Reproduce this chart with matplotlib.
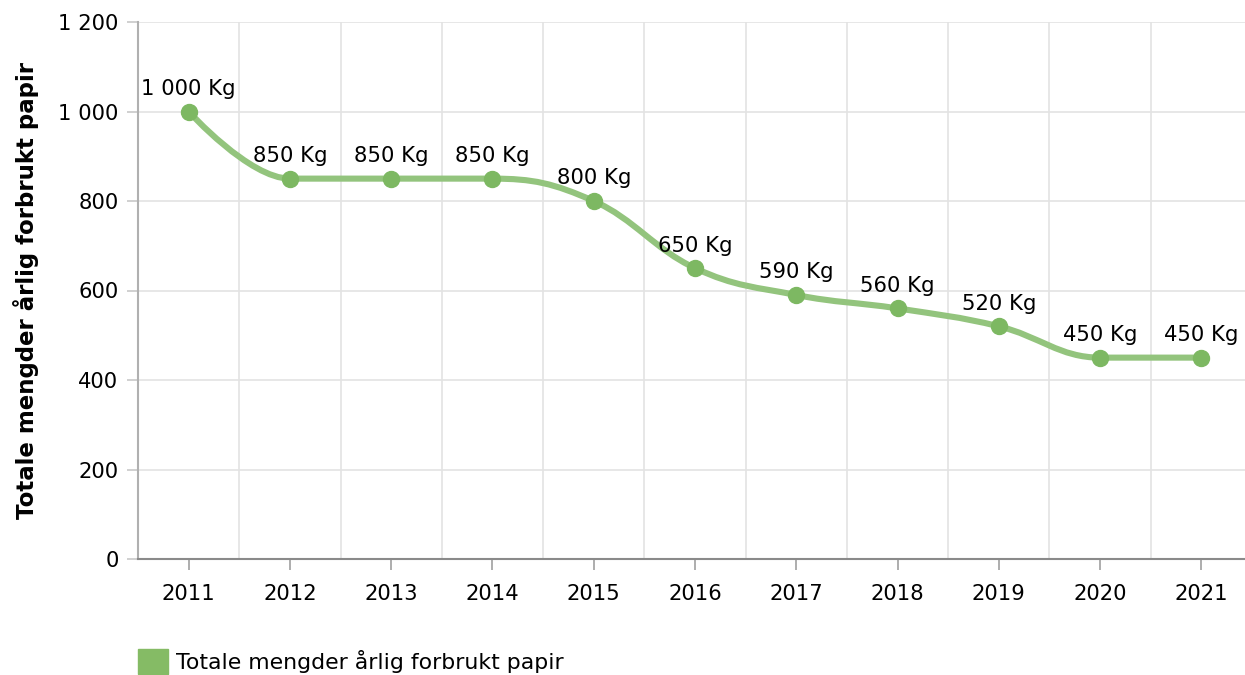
import numpy as np
import matplotlib
matplotlib.use("Agg")
import matplotlib.pyplot as plt
from matplotlib.path import Path
from matplotlib.patches import PathPatch, Patch

years = ["2011", "2012", "2013", "2014", "2015", "2016", "2017", "2018", "2019", "2020", "2021"]
paper_kg = [1000, 850, 850, 850, 800, 650, 590, 560, 520, 450, 450]
series_name = "Totale mengder årlig forbrukt papir"
y_title = "Totale mengder årlig forbrukt papir"

line_col = "#93c47d"
dot_col = "#7db862"

plt.rcParams['font.family'] = ['DejaVu Sans']
FS = 15.2


def fmt(v):
    s = f"{int(v):,}".replace(",", " ")
    return s


def spline_path(xs, ys, smoothing=1.5):
    # highcharts-like spline: bezier control points per point
    n = len(xs)
    lc = [None] * n
    rc = [None] * n
    for i in range(n):
        if i == 0 or i == n - 1:
            lc[i] = (xs[i], ys[i])
            rc[i] = (xs[i], ys[i])
            continue
        px, py = xs[i], ys[i]
        lx, ly = xs[i - 1], ys[i - 1]
        nx, ny = xs[i + 1], ys[i + 1]
        d = smoothing + 1
        lcx = (smoothing * px + lx) / d
        lcy = (smoothing * py + ly) / d
        rcx = (smoothing * px + nx) / d
        rcy = (smoothing * py + ny) / d
        corr = ((rcy - lcy) * (rcx - px)) / (rcx - lcx) + py - rcy
        lcy += corr
        rcy += corr
        if lcy > ly and lcy > py:
            lcy = max(ly, py)
            rcy = 2 * py - lcy
        elif lcy < ly and lcy < py:
            lcy = min(ly, py)
            rcy = 2 * py - lcy
        if rcy > ny and rcy > py:
            rcy = max(ny, py)
            lcy = 2 * py - rcy
        elif rcy < ny and rcy < py:
            rcy = min(ny, py)
            lcy = 2 * py - rcy
        lc[i] = (lcx, lcy)
        rc[i] = (rcx, rcy)
    verts = [(xs[0], ys[0])]
    codes = [Path.MOVETO]
    for i in range(1, n):
        verts += [rc[i - 1], lc[i], (xs[i], ys[i])]
        codes += [Path.CURVE4] * 3
    return Path(verts, codes)


fig = plt.figure(figsize=(12.45, 6.75), dpi=100)
ax = fig.add_axes([138 / 1245, 1 - 559 / 675, (1252 - 138) / 1245, (559 - 22) / 675])

x = np.arange(len(years))
ax.set_xlim(-0.5, len(years) - 0.5)
ax.set_ylim(0, 1200)

ax.add_patch(PathPatch(spline_path(x, paper_kg), facecolor="none", edgecolor=line_col,
                       lw=4.4, capstyle="round", joinstyle="round", zorder=3))
ax.plot(x, paper_kg, "o", color=dot_col, ms=11.5, zorder=4)

for xi, v in zip(x, paper_kg):
    ax.annotate(f"{fmt(v)} Kg", (xi, v), xytext=(0, 9), textcoords="offset points",
                ha="center", va="bottom", fontsize=FS, color="black", zorder=5)

ax.set_yticks(np.arange(0, 1201, 200))
ax.set_yticklabels([fmt(t) for t in np.arange(0, 1201, 200)], fontsize=FS)
ax.set_xticks(x)
ax.set_xticklabels(years, fontsize=FS)
ax.set_xticks(np.arange(-0.5, len(years), 1), minor=True)

ax.grid(False)
ax.yaxis.grid(True, color="#e3e3e3", lw=1.2)
ax.xaxis.grid(True, which="minor", color="#e3e3e3", lw=1.2)
ax.set_axisbelow(True)

for s in ["top", "right"]:
    ax.spines[s].set_visible(False)
ax.spines["left"].set_color("#b0b0b0")
ax.spines["left"].set_linewidth(1.5)
ax.spines["bottom"].set_color("#8a8a8a")
ax.spines["bottom"].set_linewidth(1.5)

ax.tick_params(axis="y", length=8, width=1.2, color="#c8c8c8", pad=6)
ax.tick_params(axis="x", which="major", length=8, width=1.2, color="#a0a0a0", pad=10)
ax.tick_params(axis="x", which="minor", length=0)

ax.set_ylabel(y_title, fontsize=16.5, fontweight="bold")
ax.yaxis.set_label_coords(-0.089, 0.5)

leg = fig.legend(handles=[Patch(color="#85bb65", label=series_name)], loc="lower left",
                 bbox_to_anchor=(118 / 1245, -0.028), frameon=False, fontsize=15.8,
                 handlelength=1.4, handleheight=1.4, handletextpad=0.35)

fig.savefig("out.png", dpi=100)
